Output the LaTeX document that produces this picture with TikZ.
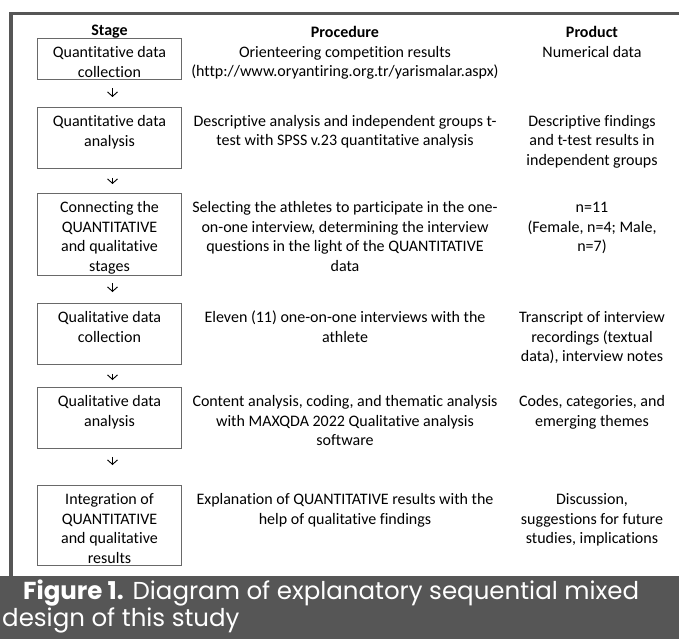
\documentclass[tikz,border=0pt]{standalone}
\usepackage{fontspec}
\setmainfont{Carlito}[Ligatures={TeX,NoCommon}]
\newfontfamily\capfont{Poppins}
\usetikzlibrary{arrows.meta}
\definecolor{capgray}{RGB}{86,86,86}
\definecolor{boxgray}{RGB}{105,105,105}
\newcommand\topstrut{\rule{0pt}{18.3pt}}
\newcommand\botstrut{\rule[-1.6pt]{0pt}{1.6pt}}

\begin{document}
\begin{tikzpicture}[x=1pt,y=-1pt,
cell/.style={align=flush center,inner xsep=0pt,inner ysep=1pt,font=\fontsize{16}{19.5}\selectfont,execute at begin node=\topstrut,execute at end node=\botstrut,anchor=north},
stagebox/.style={cell,draw=boxgray,line width=0.9pt,text width=144pt},
proccell/.style={cell,text width=330pt},
prodcell/.style={cell,text width=170pt},
head/.style={inner sep=0pt,font=\fontsize{16}{19.5}\selectfont\bfseries},
flow/.style={draw=black,line width=0.9pt,-{Straight Barb[length=4.5pt,width=10pt]}},
captext/.style={align=left,inner sep=0pt,text=white,font=\capfont\fontsize{24.5}{27}\selectfont}]
\useasboundingbox (0,0) rectangle (679,639);
\clip (0,0) rectangle (679,639);
\draw [capgray,line width=3.5pt] (11,576) -- (11,13.5) -- (679,13.5);
\fill [capgray] (0,576) rectangle (679,639);
\node at (109.5,32) [head] (hstage) {Stage};
\node at (345,32) [head] (hproc) {Procedure};
\node at (592,32) [head] (hprod) {Product};
\node at (109.5,38) [stagebox] (s1) {Quantitative data\\collection};
\node at (345,38) [proccell] (p1) {Orienteering competition results\\(http://www.oryantiring.org.tr/yarismalar.aspx)};
\node at (592,38) [prodcell] (r1) {Numerical data};
\node at (109.5,107) [stagebox] (s2) {Quantitative data\\analysis\\};
\node at (345,107) [proccell] (p2) {Descriptive analysis and independent groups t-\\test with SPSS v.23 quantitative analysis};
\node at (592,107) [prodcell] (r2) {Descriptive findings\\and t-test results in\\independent groups};
\node at (109.5,193) [stagebox] (s3) {Connecting the\\QUANTITATIVE\\and qualitative\\stages};
\node at (345,193) [proccell] (p3) {Selecting the athletes to participate in the one-\\on-one interview, determining the interview\\questions in the light of the QUANTITATIVE\\data};
\node at (592,193) [prodcell] (r3) {n=11\\(Female, n=4; Male,\\n=7)};
\node at (109.5,303) [stagebox] (s4) {Qualitative data\\collection\\};
\node at (345,303) [proccell] (p4) {Eleven (11) one-on-one interviews with the\\athlete};
\node at (592,303) [prodcell] (r4) {Transcript of interview\\recordings (textual\\data), interview notes};
\node at (109.5,387) [stagebox] (s5) {Qualitative data\\analysis\\};
\node at (345,387) [proccell] (p5) {Content analysis, coding, and thematic analysis\\with MAXQDA 2022 Qualitative analysis\\software};
\node at (592,387) [prodcell] (r5) {Codes, categories, and\\emerging themes};
\node at (109.5,485) [stagebox] (s6) {Integration of\\QUANTITATIVE\\and qualitative\\results};
\node at (345,485) [proccell] (p6) {Explanation of QUANTITATIVE results with the\\help of qualitative findings};
\node at (592,485) [prodcell] (r6) {Discussion,\\suggestions for future\\studies, implications};
\draw [flow,shorten <=8pt,shorten >=10pt] ([xshift=3pt]s1.south) -- ([xshift=3pt]s2.north);
\draw [flow,shorten <=9pt,shorten >=9pt] ([xshift=3pt]s2.south) -- ([xshift=3pt]s3.north);
\draw [flow,shorten <=8pt,shorten >=11pt] ([xshift=3pt]s3.south) -- ([xshift=3pt]s4.north);
\draw [flow,shorten <=9pt,shorten >=7pt] ([xshift=3pt]s4.south) -- ([xshift=3pt]s5.north);
\draw [flow,shorten <=8pt,shorten >=20pt] ([xshift=3pt]s5.south) -- ([xshift=3pt]s6.north);
\node at (2,580) [captext,anchor=north west] (cap) {\hspace*{21pt}\textbf{Figure 1.} Diagram of explanatory sequential mixed\\design of this study};
\end{tikzpicture}
\end{document}
